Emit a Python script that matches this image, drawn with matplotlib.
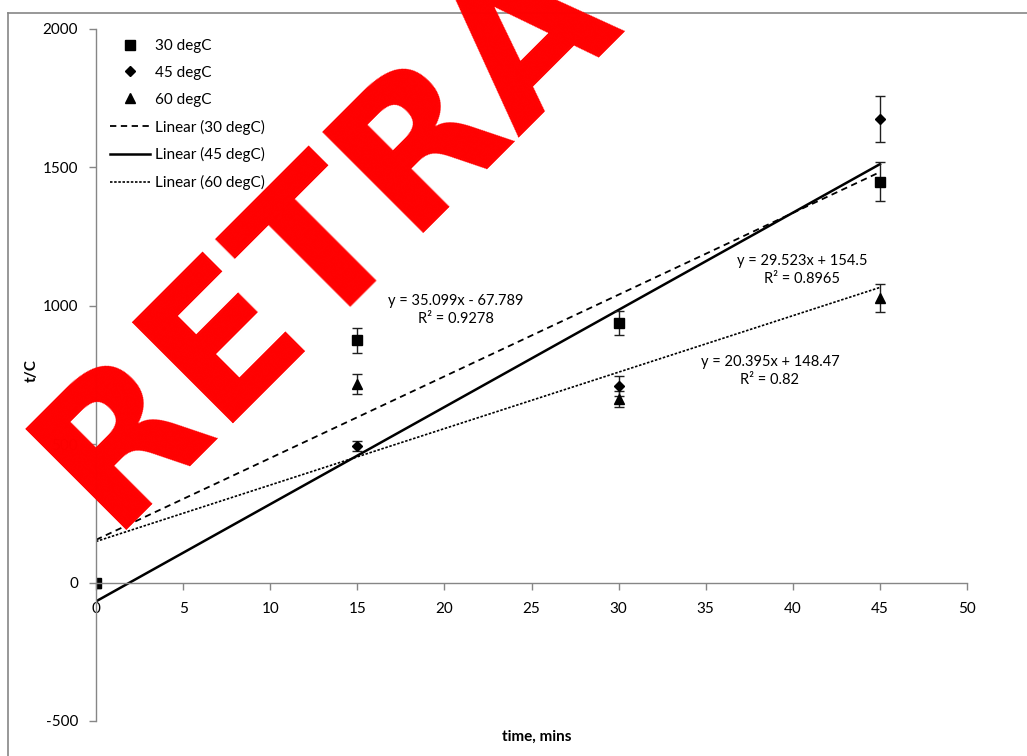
import numpy as np
import matplotlib
matplotlib.use('Agg')
import matplotlib.pyplot as plt
from matplotlib.lines import Line2D

plt.rcParams['font.family'] = ['Lato', 'DejaVu Sans']
plt.rcParams['font.size'] = 11
plt.rcParams['axes.unicode_minus'] = False

# measured times and t/C values for each temperature
time = np.array([0, 15, 30, 45])
t30 = np.array([0, 875, 938, 1449])
t45 = np.array([0, 492, 709, 1674])
t60 = np.array([0, 718, 663, 1028])
err30 = np.array([0, 45, 45, 72])
err45 = np.array([0, 18, 36, 83])
err60 = np.array([0, 36, 29, 50])

# linear trendlines (slope, intercept, R^2)
fit30 = (29.523, 154.5, 0.8965)
fit45 = (35.099, -67.789, 0.9278)
fit60 = (20.395, 148.47, 0.82)

grey = '#868686'

fig = plt.figure(figsize=(10.27, 7.56), dpi=100)
ax = fig.add_axes([96/1027, 1-721/756, 871/1027, 692/756])

# chart area border
fig.add_artist(Line2D([8/1027, 8/1027], [0, 1-13/756], transform=fig.transFigure, color=grey, lw=1.2))
fig.add_artist(Line2D([8/1027, 1], [1-13/756, 1-13/756], transform=fig.transFigure, color=grey, lw=1.2))

xs = np.array([0, 45])
l30, = ax.plot(xs, fit30[0]*xs + fit30[1], color='black', lw=1.3, ls=(0, (3.5, 2.5)), label='Linear (30 degC)')
l45, = ax.plot(xs, fit45[0]*xs + fit45[1], color='black', lw=1.8, ls='-', label='Linear (45 degC)')
l60, = ax.plot(xs, fit60[0]*xs + fit60[1], color='black', lw=1.2, ls=(0, (1.5, 1.0)), label='Linear (60 degC)')

for y, e in [(t60, err60), (t45, err45), (t30, err30)]:
    ax.errorbar(time[1:], y[1:], yerr=e[1:], fmt='none', ecolor='#202020', elinewidth=1, capsize=3.5, capthick=1)

m60, = ax.plot(time, t60, ls='none', marker='^', ms=7, color='black', label='60 degC')
m45, = ax.plot(time, t45, ls='none', marker='D', ms=5, color='black', label='45 degC')
m30, = ax.plot(time, t30, ls='none', marker='s', ms=6.5, color='black', label='30 degC')

ax.set_xlim(0, 50)
ax.set_ylim(-500, 2000)
ax.set_xticks(np.arange(0, 55, 5))
ax.set_yticks(np.arange(-500, 2001, 500))

ax.spines['top'].set_visible(False)
ax.spines['right'].set_visible(False)
ax.spines['bottom'].set_position(('data', 0))
for s in ['left', 'bottom']:
    ax.spines[s].set_color(grey)
    ax.spines[s].set_linewidth(1)
ax.tick_params(axis='both', direction='out', length=5, width=1, color=grey, labelsize=11)
ax.tick_params(axis='y', pad=8)
ax.tick_params(axis='x', pad=9)
ax.patch.set_visible(False)

ax.set_xlabel('time, mins', fontweight='bold', fontsize=11)
ax.set_ylabel('t/C', fontweight='bold', fontsize=11)
ax.xaxis.set_label_coords(0.506, -0.023)
ax.yaxis.set_label_coords(-0.0735, 0.507)
ax.xaxis.label.set_va('center')
ax.yaxis.label.set_va('center')

for (a, b, r2), (tx, ty) in [(fit45, (20.67, 986)), (fit30, (40.53, 1128)), (fit60, (38.69, 763))]:
    sign = '-' if b < 0 else '+'
    ax.text(tx, ty, 'y = %gx %s %g\nR² = %g' % (a, sign, abs(b), r2),
            ha='center', va='center', multialignment='center', fontsize=10.5, linespacing=1.35)

ax.legend(handles=[m30, m45, m60, l30, l45, l60], loc='upper left',
          bbox_to_anchor=(110/1027, 1-39/756), bbox_transform=fig.transFigure,
          frameon=False, borderpad=0, borderaxespad=0, handlelength=2.6,
          handletextpad=0.35, labelspacing=0.84, fontsize=11)

fig.text(109/1027, 1-530/756, 'RETRACTED', color='#ff0000', fontsize=142,
         fontweight='bold', family='DejaVu Sans', rotation=45, rotation_mode='anchor',
         ha='left', va='baseline', zorder=10)

fig.savefig('out.png', dpi=100)
